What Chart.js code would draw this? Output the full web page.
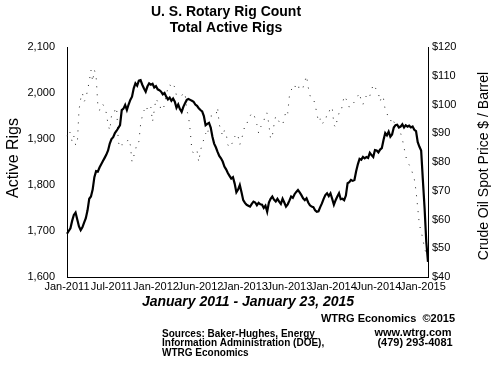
<!DOCTYPE html>
<html>
<head>
<meta charset="utf-8">
<script src="https://cdn.jsdelivr.net/npm/chart.js@4.4.1/dist/chart.umd.min.js"></script>
<style>
  body { margin: 0; background: #fff; }
  canvas { display: block; }
</style>
</head>
<body>
<canvas id="rigs" width="500" height="375"></canvas>
<script>
// x-axis tick labels, one every 26 weeks
const tickLabels = ['Jan-2011', 'Jul-2011', 'Jan-2012', 'Jun-2012', 'Jan-2013',
                    'Jun-2013', 'Jan-2014', 'Jun-2014', 'Jan-2015'];

// weekly rig count, Jan 7 2011 - Jan 23 2015
const rigCount = [
  1694, 1700, 1706, 1722, 1735, 1740, 1725, 1710, 1702, 1708,
  1718, 1728, 1745, 1770, 1775, 1790, 1817, 1830, 1829, 1838,
  1845, 1852, 1859, 1866, 1875, 1890, 1900, 1904, 1913, 1918,
  1924, 1930, 1963, 1966, 1974, 1963, 1975, 1985, 1992, 2010,
  2021, 2016, 2027, 2028, 2018, 2010, 2003, 2014, 2021, 2018,
  2020, 2012, 2015, 2008, 2006, 2003, 1997, 2000, 1992, 1986,
  1990, 1983, 1988, 1981, 1968, 1975, 1965, 1959, 1970, 1978,
  1985, 1987, 1985, 1983, 1981, 1975, 1972, 1967, 1963, 1960,
  1950, 1930, 1933, 1935, 1925, 1905, 1890, 1882, 1872, 1863,
  1858, 1851, 1840, 1834, 1826, 1820, 1814, 1817, 1803, 1784,
  1790, 1800, 1784, 1767, 1761, 1757, 1755, 1753, 1759, 1764,
  1762, 1756, 1761, 1758, 1757, 1750, 1755, 1742, 1762, 1770,
  1775, 1768, 1764, 1770, 1764, 1759, 1770, 1762, 1753, 1758,
  1766, 1775, 1772, 1780, 1785, 1789, 1784, 1778, 1771, 1767,
  1771, 1762, 1756, 1753, 1752, 1745, 1742, 1743, 1752, 1760,
  1770, 1778, 1782, 1776, 1782, 1770, 1757, 1767, 1775, 1782,
  1769, 1770, 1767, 1777, 1804, 1806, 1811, 1809, 1811, 1830,
  1845, 1857, 1855, 1861, 1858, 1861, 1859, 1870, 1865, 1861,
  1876, 1875, 1871, 1877, 1880, 1898, 1913, 1908, 1916, 1905,
  1910, 1925, 1930, 1931, 1925, 1927, 1932, 1925, 1930, 1927,
  1929, 1925, 1927, 1920, 1917, 1893, 1883, 1875, 1811, 1750,
  1676, 1633
];

// weekly crude oil spot price, $/barrel
const oilPrice = [
  89, 91, 90, 87, 89, 86, 86, 98, 102, 104,
  101, 102, 105, 108, 112, 108, 112, 110, 100, 98,
  100, 100, 99, 97, 93, 91, 96, 96, 98, 99,
  87, 85, 86, 86, 86, 87, 88, 86, 80, 82,
  84, 87, 87, 93, 96, 98, 97, 99, 100, 99,
  94, 98, 102, 101, 99, 99, 98, 100, 103, 106,
  107, 106, 107, 106, 103, 103, 103, 103, 104, 104,
  98, 96, 91, 84, 83, 84, 84, 80, 84, 86,
  88, 90, 89, 93, 96, 96, 96, 96, 99, 93,
  91, 89, 91, 90, 86, 85, 86, 87, 89, 88,
  89, 86, 88, 90, 93, 93, 95, 96, 97, 97,
  95, 93, 90, 92, 93, 94, 97, 97, 93, 88,
  89, 93, 96, 95, 94, 93, 93, 95, 98, 97,
  103, 105, 106, 107, 105, 106, 106, 107, 106, 108,
  110, 106, 103, 103, 102, 100, 97, 94, 95, 93,
  94, 94, 97, 97, 99, 99, 93, 92, 95, 97,
  97, 100, 103, 102, 101, 99, 99, 100, 101, 102,
  103, 104, 101, 100, 102, 103, 104, 103, 105, 107,
  106, 105, 104, 101, 103, 102, 98, 97, 95, 95,
  93, 94, 93, 93, 93, 90, 88, 85, 82, 80,
  79, 78, 76, 74, 70, 64, 58, 56, 53, 50,
  48, 47
];

// one category per week, starting Friday Jan 7 2011
const weeks = [];
const start = new Date(Date.UTC(2011, 0, 7));
for (let i = 0; i < rigCount.length; i++) {
    const d = new Date(start.getTime() + i * 7 * 86400000);
    weeks.push(d.toISOString().slice(0, 10));
}

const FONT = '"Liberation Sans", Arial, sans-serif';

// titles, rotated axis titles and source notes
const textPlugin = {
    id: 'texts',
    afterDraw(chart) {
        const c = chart.ctx;
        c.save();
        c.fillStyle = '#000';
        c.textAlign = 'center';
        c.textBaseline = 'middle';

        c.font = 'bold 14px ' + FONT;
        c.fillText('U. S. Rotary Rig Count', 226, 12);
        c.fillText('Total Active Rigs', 226, 28);

        c.font = 'italic bold 14px ' + FONT;
        c.fillText('January 2011 - January 23, 2015', 248, 302);

        c.save();
        c.translate(14, 158);
        c.rotate(-Math.PI / 2);
        c.font = '16px ' + FONT;
        c.fillText('Active Rigs', 0, 0);
        c.restore();

        c.save();
        c.translate(484, 166);
        c.rotate(-Math.PI / 2);
        c.font = '14px ' + FONT;
        c.fillText('Crude Oil Spot Price $ / Barrel', 0, 0);
        c.restore();

        c.font = 'bold 11px ' + FONT;
        c.fillText('WTRG Economics  \u00A92015', 388, 319);
        c.fillText('www.wtrg.com', 413, 333);
        c.fillText('(479) 293-4081', 415, 343);

        c.textAlign = 'left';
        c.font = 'bold 10px ' + FONT;
        c.fillText('Sources: Baker-Hughes, Energy', 162, 334);
        c.fillText('Information Administration (DOE),', 162, 343);
        c.fillText('WTRG Economics', 162, 353);
        c.restore();
    }
};

const ctx = document.getElementById('rigs').getContext('2d');
const rigChart = new Chart(ctx, {
    type: 'line',
    data: {
        labels: weeks,
        datasets: [{
            label: 'Active Rigs',
            data: rigCount,
            yAxisID: 'y',
            borderColor: '#000',
            borderWidth: 2.2,
            pointRadius: 0,
            tension: 0
        }, {
            label: 'Crude Oil Spot Price',
            data: oilPrice,
            yAxisID: 'y1',
            borderColor: '#222',
            borderWidth: 1,
            borderDash: [1, 7],
            pointRadius: 0,
            tension: 0
        }]
    },
    options: {
        responsive: false,
        animation: false,
        layout: { padding: { top: 47 } },
        plugins: {
            legend: { display: false },
            title: { display: false },
            tooltip: { enabled: false }
        },
        scales: {
            x: {
                grid: { display: false, drawTicks: false },
                border: { display: true, color: '#000', width: 1 },
                afterFit: function (scale) { scale.height = 98; },
                ticks: {
                    autoSkip: false,
                    maxRotation: 0,
                    padding: 3,
                    color: '#000',
                    font: { family: FONT, size: 11 },
                    callback: function (value, index) {
                        return index % 26 === 0 ? tickLabels[index / 26] : null;
                    }
                }
            },
            y: {
                position: 'left',
                min: 1600,
                max: 2100,
                grid: { display: false, drawTicks: false },
                border: { display: true, color: '#000', width: 1 },
                afterFit: function (scale) { scale.width = 67; },
                ticks: {
                    stepSize: 100,
                    padding: 12,
                    color: '#000',
                    font: { family: FONT, size: 11 },
                    callback: function (v) { return v.toLocaleString('en-US'); }
                }
            },
            y1: {
                position: 'right',
                min: 40,
                max: 120,
                grid: { display: false, drawTicks: false },
                border: { display: true, color: '#000', width: 1 },
                afterFit: function (scale) { scale.width = 72; },
                ticks: {
                    stepSize: 10,
                    padding: 4,
                    color: '#000',
                    font: { family: FONT, size: 11 },
                    callback: function (v) { return '$' + v; }
                }
            }
        }
    },
    plugins: [textPlugin]
});
</script>
</body>
</html>
